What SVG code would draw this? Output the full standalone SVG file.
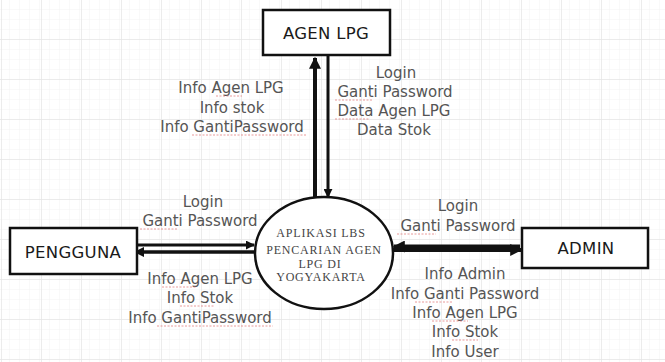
<svg xmlns="http://www.w3.org/2000/svg" width="665" height="362" viewBox="0 0 665 362">
<style>
.box{fill:#fff;stroke:#111;stroke-width:2.5}
.bt{font-family:"DejaVu Sans",sans-serif;font-size:16.5px;fill:#1a1a1a;text-anchor:middle;letter-spacing:0.3px}
.lb{font-family:"DejaVu Sans",sans-serif;font-size:15px;fill:#555;text-anchor:middle}
.ct{font-family:"Liberation Serif",serif;font-size:12px;fill:#444;text-anchor:middle;letter-spacing:0.8px}
.fl{fill:none;stroke:#111}
.sq{fill:none;stroke:#e07070;stroke-width:1;stroke-dasharray:2 1.5;opacity:0.7}
</style>
<defs>
<pattern id="minor" width="10" height="10" patternUnits="userSpaceOnUse">
<path d="M10 0V10M0 10H10" fill="none" stroke="#f3f3f3" stroke-width="1"/>
</pattern>
<pattern id="major" width="40" height="40" patternUnits="userSpaceOnUse" x="2" y="0">
<path d="M40 0V40M0 40H40" fill="none" stroke="#e6e6e6" stroke-width="1.5"/>
</pattern>
<marker id="ah" viewBox="0 0 10 10" refX="9" refY="5" markerWidth="3" markerHeight="3" orient="auto" markerUnits="strokeWidth">
<path d="M0 0L10 5L0 10z" fill="#111"/>
</marker>
</defs>
<rect width="665" height="362" fill="#fff"/>
<rect width="665" height="362" fill="url(#minor)"/>
<rect width="665" height="362" fill="url(#major)"/>

<g id="connectors">
<line class="fl" x1="315" y1="199" x2="315" y2="58" stroke-width="4" marker-end="url(#ah)"/>
<line class="fl" x1="328" y1="56" x2="328" y2="197" stroke-width="3" marker-end="url(#ah)"/>
<line class="fl" x1="138" y1="245" x2="254" y2="245" stroke-width="3" marker-end="url(#ah)"/>
<line class="fl" x1="254" y1="252" x2="135" y2="252" stroke-width="3.5" marker-end="url(#ah)"/>
<line class="fl" x1="520" y1="246.5" x2="394" y2="246.5" stroke-width="4" marker-end="url(#ah)"/>
<line class="fl" x1="394" y1="250" x2="521" y2="250" stroke-width="4" marker-end="url(#ah)"/>
</g>

<g id="labels">
<text class="lb" x="231" y="93">Info Agen LPG</text>
<text class="lb" x="232" y="113">Info stok</text>
<text class="lb" x="232" y="132">Info GantiPassword</text>
<text class="lb" x="396" y="78">Login</text>
<text class="lb" x="395" y="97">Ganti Password</text>
<text class="lb" x="394" y="116">Data Agen LPG</text>
<text class="lb" x="394" y="135">Data Stok</text>
<text class="lb" x="203" y="207">Login</text>
<text class="lb" x="200" y="226">Ganti Password</text>
<text class="lb" x="200" y="284">Info Agen LPG</text>
<text class="lb" x="200" y="303">Info Stok</text>
<text class="lb" x="200" y="323">Info GantiPassword</text>
<text class="lb" x="458" y="211">Login</text>
<text class="lb" x="458" y="231">Ganti Password</text>
<text class="lb" x="465" y="279">Info Admin</text>
<text class="lb" x="465" y="299">Info Ganti Password</text>
<text class="lb" x="465" y="318">Info Agen LPG</text>
<text class="lb" x="465" y="337">Info Stok</text>
<text class="lb" x="465" y="357">Info User</text>
<path class="sq" d="M216 96H242M192 135H307M335 100H372M335 119H370M140 229H178M162 287H196M180 306H215M157 326H273M397 234H436M415 302H453M432 321H468M452 340H478"/>
</g>

<g id="agen-lpg">
<rect class="box" x="263" y="10" width="127" height="45"/>
<text class="bt" x="326" y="39">AGEN LPG</text>
</g>

<g id="pengguna">
<rect class="box" x="10" y="228" width="127" height="46"/>
<text class="bt" x="73" y="258">PENGGUNA</text>
</g>

<g id="admin">
<rect class="box" x="522" y="228" width="126" height="40"/>
<text class="bt" x="586" y="254">ADMIN</text>
</g>

<g id="aplikasi">
<ellipse cx="324" cy="253" rx="69" ry="56" fill="#fff" stroke="#111" stroke-width="2.5"/>
<text class="ct" x="321" y="237">APLIKASI LBS</text>
<text class="ct" x="324" y="254">PENCARIAN AGEN</text>
<text class="ct" x="320" y="268">LPG DI</text>
<text class="ct" x="321" y="281">YOGYAKARTA</text>
</g>
</svg>
